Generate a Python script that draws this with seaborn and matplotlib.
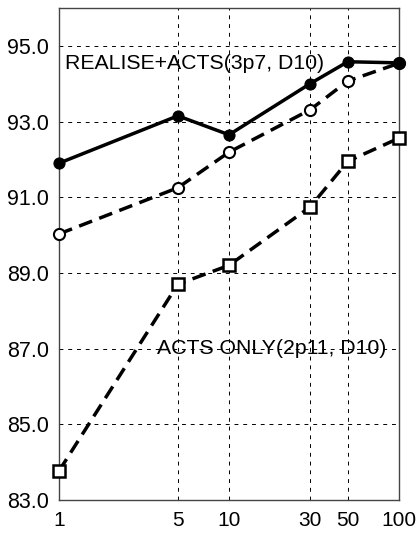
import matplotlib
matplotlib.use('Agg')
import matplotlib.pyplot as plt
import seaborn as sns
import pandas as pd

x_vals = [1, 5, 10, 30, 50, 100]
realise_acts = [91.9, 93.15, 92.65, 94.0, 94.58, 94.55]
middle_series = [90.03, 91.25, 92.19, 93.31, 94.07, 94.54]
acts_only = [83.77, 88.70, 89.20, 90.74, 91.95, 92.56]
y_ticks = [83.0, 85.0, 87.0, 89.0, 91.0, 93.0, 95.0]

sns.set_style('white')
plt.rcParams['font.family'] = ['Liberation Sans', 'DejaVu Sans']
plt.rcParams['text.color'] = 'black'
plt.rcParams['xtick.color'] = 'black'
plt.rcParams['ytick.color'] = 'black'

fig = plt.figure(figsize=(4.16, 5.33), dpi=100)
ax = fig.add_axes([0.142, 0.062, 0.817, 0.923])

df = pd.DataFrame({'x': x_vals, 'a': realise_acts, 'b': middle_series, 'c': acts_only})

sns.lineplot(data=df, x='x', y='c', ax=ax, color='black', lw=2.5, linestyle=(0, (4, 2.2)),
             marker='s', markersize=8.5, markerfacecolor='white', markeredgecolor='black',
             markeredgewidth=1.8, zorder=3, clip_on=False)
sns.lineplot(data=df, x='x', y='b', ax=ax, color='black', lw=2.5, linestyle=(0, (4, 2.2)),
             marker='o', markersize=8, markerfacecolor='white', markeredgecolor='black',
             markeredgewidth=1.5, zorder=3, clip_on=False)
sns.lineplot(data=df, x='x', y='a', ax=ax, color='black', lw=2.5,
             marker='o', markersize=8, markerfacecolor='black', markeredgecolor='black',
             zorder=4, clip_on=False)

ax.set_xscale('log')
ax.set_xlim(1, 100)
ax.set_ylim(83, 96)
ax.set_xticks(x_vals)
ax.set_xticklabels([str(v) for v in x_vals], fontsize=15)
ax.set_yticks(y_ticks)
ax.set_yticklabels(['%.1f' % v for v in y_ticks], fontsize=15.5)
ax.minorticks_off()
ax.tick_params(axis='x', length=0, pad=8)
ax.tick_params(axis='y', length=0, pad=7)
ax.grid(True, color='black', linestyle=(0, (4, 5)), lw=0.7)
ax.set_xlabel('')
ax.set_ylabel('')
for s in ax.spines.values():
    s.set_color('#444444')
    s.set_linewidth(1)

ax.text(1.08, 94.53, 'REALISE+ACTS(3p7, D10)', fontsize=15.3, va='center', ha='left')
ax.text(3.75, 87.0, 'ACTS ONLY(2p11, D10)', fontsize=15.3, va='center', ha='left')

fig.savefig('out.png', dpi=100)
